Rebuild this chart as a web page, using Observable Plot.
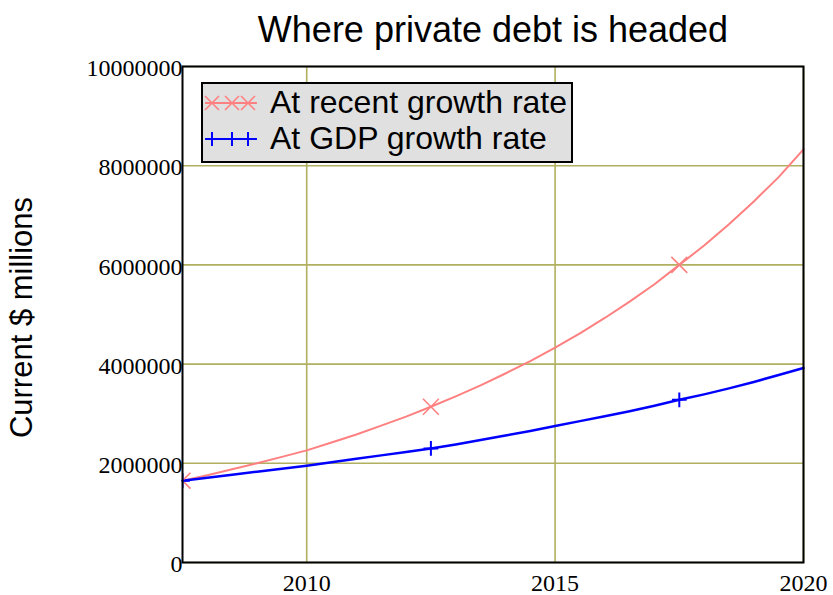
<!DOCTYPE html>
<html><head><meta charset="utf-8">
<script src="https://cdn.jsdelivr.net/npm/d3@7"></script>
<script src="https://cdn.jsdelivr.net/npm/@observablehq/plot@0.6"></script>
<style>
body{margin:0;background:#fff}
#wrap{position:relative;width:833px;height:595px;overflow:hidden}
#legend{position:absolute;left:201px;top:82px}
</style></head><body><div id="wrap"></div>
<script>
const title = "Where private debt is headed";
const yLabel = "Current $ millions";
const seriesNames = ["At recent growth rate", "At GDP growth rate"];
const seriesColors = ["#ff8080", "#0000ff"];
const years = [2007.5, 2008, 2008.5, 2009, 2009.5, 2010, 2010.5, 2011, 2011.5, 2012, 2012.5, 2013, 2013.5,
  2014, 2014.5, 2015, 2015.5, 2016, 2016.5, 2017, 2017.5, 2018, 2018.5, 2019, 2019.5, 2020];
const recentGrowth = [1650000, 1760000, 1880000, 2000000, 2130000, 2260000, 2420000, 2580000, 2760000, 2940000, 3140000, 3350000, 3570000,
  3810000, 4060000, 4330000, 4620000, 4930000, 5260000, 5610000, 6000000, 6390000, 6820000, 7280000, 7770000, 8330000];
const gdpGrowth = [1650000, 1710000, 1770000, 1830000, 1890000, 1950000, 2020000, 2090000, 2160000, 2230000, 2300000, 2380000, 2470000,
  2560000, 2650000, 2750000, 2850000, 2950000, 3050000, 3160000, 3280000, 3390000, 3510000, 3640000, 3780000, 3920000];
const markerYears = [2007.5, 2012.5, 2017.5];
const xTicks = [2010, 2015, 2020];
const yTicks = [0, 2000000, 4000000, 6000000, 8000000, 10000000];

const red = years.map((year, i) => ({year, value: recentGrowth[i]}));
const blue = years.map((year, i) => ({year, value: gdpGrowth[i]}));
const redMarks = red.filter(d => markerYears.includes(d.year));
const blueMarks = blue.filter(d => markerYears.includes(d.year));

const grid = "#b0b060";
const sans = "'Liberation Sans', Arial, sans-serif";

const chart = Plot.plot({
  width: 833, height: 595,
  marginTop: 66, marginLeft: 182, marginRight: 30, marginBottom: 33,
  style: {fontFamily: "'Liberation Serif', 'Times New Roman', serif", fontSize: "24px", background: "white", overflow: "visible"},
  x: {domain: [2007.5, 2020], label: null},
  y: {domain: [0, 10000000], label: null},
  marks: [
    Plot.gridX(xTicks, {stroke: grid, strokeOpacity: 1, strokeWidth: 1.6}),
    Plot.gridY(yTicks, {stroke: grid, strokeOpacity: 1, strokeWidth: 1.6}),
    Plot.axisX(xTicks, {tickSize: 0, tickPadding: 11, tickFormat: "d", fontSize: 24, fill: "black"}),
    Plot.axisY(yTicks, {tickSize: 0, tickPadding: 0, tickFormat: "d", fontSize: 24, fill: "black", dy: 2}),
    Plot.line(red, {x: "year", y: "value", stroke: seriesColors[0], strokeWidth: 2}),
    Plot.line(blue, {x: "year", y: "value", stroke: seriesColors[1], strokeWidth: 2.5}),
    Plot.dot(redMarks, {x: "year", y: "value", symbol: "times", r: 7.3, stroke: seriesColors[0], strokeWidth: 1.6, clip: true}),
    Plot.dot(blueMarks, {x: "year", y: "value", symbol: "plus", r: 4.8, stroke: seriesColors[1], strokeWidth: 2, clip: true}),
    Plot.frame({stroke: "black", strokeWidth: 2}),
    Plot.text([title], {text: d => d, frameAnchor: "top", textAnchor: "middle", lineAnchor: "middle", dy: -36, fontFamily: sans, fontSize: 36, fill: "black"}),
    Plot.text([yLabel], {text: d => d, frameAnchor: "left", textAnchor: "middle", lineAnchor: "middle", rotate: -90, dx: -160, dy: 3, fontFamily: sans, fontSize: 31, fill: "black"})
  ]
});
const wrap = document.getElementById("wrap");
wrap.appendChild(chart);

// legend overlay
const ns = "http://www.w3.org/2000/svg";
const lg = document.createElementNS(ns, "svg");
lg.setAttribute("id", "legend");
lg.setAttribute("width", 373);
lg.setAttribute("height", 82);
let html = `<rect x="1" y="1" width="370" height="79" fill="#e0e0e0" stroke="black" stroke-width="2"/>`;
const rowsY = [21, 57];
const symX = [11, 31, 47];
seriesNames.forEach((name, i) => {
  const cy = rowsY[i], c = seriesColors[i];
  html += `<line x1="4" x2="56" y1="${cy}" y2="${cy}" stroke="${c}" stroke-width="2"/>`;
  symX.forEach(sx => {
    if (i === 0) html += `<path d="M${sx-7},${cy-7}L${sx+7},${cy+7}M${sx-7},${cy+7}L${sx+7},${cy-7}" stroke="${c}" stroke-width="1.6"/>`;
    else html += `<path d="M${sx-7},${cy}L${sx+7},${cy}M${sx},${cy-7}L${sx},${cy+7}" stroke="${c}" stroke-width="2"/>`;
  });
  html += `<text x="69" y="${cy + 10}" font-family="${sans.replace(/'/g, "")}" font-size="32" fill="black">${name}</text>`;
});
lg.innerHTML = html;
wrap.appendChild(lg);
</script>
</body></html>
